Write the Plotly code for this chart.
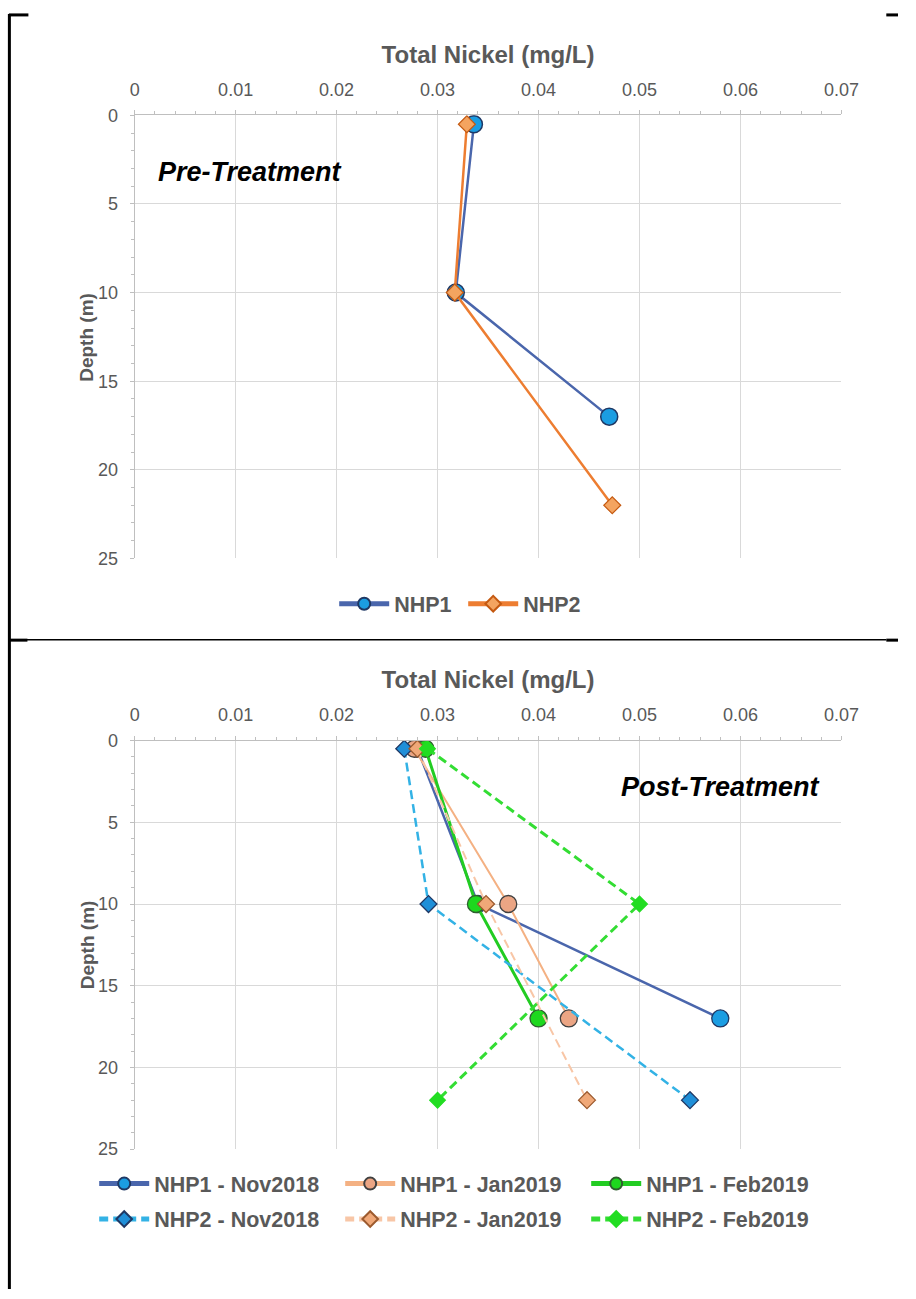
import plotly.graph_objects as go

# ---- data -----------------------------------------------------------------
# Pre-treatment profiles (depth in m, total nickel in mg/L)
pre_nhp1_depth = [0.5, 10, 17]
pre_nhp1_ni = [0.0336, 0.0318, 0.047]
pre_nhp2_depth = [0.5, 10, 22]
pre_nhp2_ni = [0.0329, 0.0317, 0.0473]

# Post-treatment profiles
post_nhp1_depth = [0.5, 10, 17]
post_nhp2_depth = [0.5, 10, 22]
nhp1_nov2018 = [0.028, 0.034, 0.058]
nhp1_jan2019 = [0.0277, 0.037, 0.043]
nhp1_feb2019 = [0.0288, 0.0338, 0.040]
nhp2_nov2018 = [0.0267, 0.0291, 0.055]
nhp2_jan2019 = [0.028, 0.0348, 0.0448]
nhp2_feb2019 = [0.029, 0.050, 0.030]

x_ticks = [0, 0.01, 0.02, 0.03, 0.04, 0.05, 0.06, 0.07]
x_tick_text = ["0", "0.01", "0.02", "0.03", "0.04", "0.05", "0.06", "0.07"]
y_ticks = [0, 5, 10, 15, 20, 25]

# ---- page geometry (pixels) -----------------------------------------------
W, H = 916, 1299
FONT = "Liberation Sans, Arial, sans-serif"
GREY = "#595959"


def px_x(x):
    """Pixel x -> paper fraction."""
    return min(max(x / W, 0), 1)


def px_y(y):
    """Pixel y (from top) -> paper fraction."""
    return min(max(1 - y / H, 0), 1)


fig = go.Figure()

# ---- pre-treatment traces --------------------------------------------------
fig.add_trace(go.Scatter(
    x=pre_nhp1_ni, y=pre_nhp1_depth, name="NHP1", mode="lines+markers",
    line=dict(color="#4A66AC", width=2.5),
    marker=dict(symbol="circle", size=17, color="#1B9DE2",
                line=dict(color="#1F3864", width=1.5)),
    xaxis="x", yaxis="y", legend="legend"))
fig.add_trace(go.Scatter(
    x=pre_nhp2_ni, y=pre_nhp2_depth, name="NHP2", mode="lines+markers",
    line=dict(color="#ED7D31", width=2.5),
    marker=dict(symbol="diamond", size=13, color="#F4A460",
                line=dict(color="#C55A11", width=1.2)),
    xaxis="x", yaxis="y", legend="legend"))

# ---- post-treatment traces -------------------------------------------------
DASH = "9px,5px"
post_series = [
    ("NHP1 - Nov2018", nhp1_nov2018, post_nhp1_depth, "#4A66AC", 2.5, "solid",
     "circle", 17, "#1B9DE2", "#1F3864", "legend2"),
    ("NHP1 - Jan2019", nhp1_jan2019, post_nhp1_depth, "#F4B183", 2, "solid",
     "circle", 17, "#EBA584", "#404040", "legend2"),
    ("NHP1 - Feb2019", nhp1_feb2019, post_nhp1_depth, "#22CC22", 3, "solid",
     "circle", 17, "#1ED81E", "#2F5F2F", "legend2"),
    ("NHP2 - Nov2018", nhp2_nov2018, post_nhp2_depth, "#33B2E5", 2.5, DASH,
     "diamond", 13, "#1F8FD8", "#1F3864", "legend3"),
    ("NHP2 - Jan2019", nhp2_jan2019, post_nhp2_depth, "#F8C6A6", 2, DASH,
     "diamond", 13, "#F0A878", "#9C5A2E", "legend3"),
    ("NHP2 - Feb2019", nhp2_feb2019, post_nhp2_depth, "#33DD33", 3, DASH,
     "diamond", 12, "#22DD22", "#22DD22", "legend3"),
]
for name, xs, ys, lc, lw, dash, sym, ms, mc, mlc, lg in post_series:
    fig.add_trace(go.Scatter(
        x=xs, y=ys, name=name, mode="lines+markers",
        line=dict(color=lc, width=lw, dash=dash),
        marker=dict(symbol=sym, size=ms, color=mc, line=dict(color=mlc, width=1.3)),
        xaxis="x2", yaxis="y2", legend=lg))


# ---- axes ------------------------------------------------------------------
def x_axis(anchor):
    return dict(
        domain=[px_x(133), px_x(858)], anchor=anchor, side="top",
        range=[0, 0.07], tickvals=x_ticks, ticktext=x_tick_text,
        showgrid=True, gridcolor="#D9D9D9", gridwidth=1,
        showline=True, linecolor="#BFBFBF", linewidth=1,
        ticks="outside", ticklen=4, tickcolor="#BFBFBF",
        minor=dict(dtick=0.002, ticks="outside", ticklen=3, tickcolor="#BFBFBF",
                   showgrid=False),
        tickfont=dict(family=FONT, size=18, color=GREY),
        ticklabelstandoff=7,
        title=dict(text="<b>Total Nickel (mg/L)</b>", standoff=9,
                   font=dict(family=FONT, size=24, color=GREY)),
        zeroline=False, fixedrange=True,
    )


def y_axis(anchor, top, bottom):
    return dict(
        domain=[px_y(bottom), px_y(top)], anchor=anchor,
        range=[25, 0], tickvals=y_ticks,
        showgrid=True, gridcolor="#D9D9D9", gridwidth=1,
        showline=True, linecolor="#BFBFBF", linewidth=1,
        ticks="outside", ticklen=4, tickcolor="#BFBFBF",
        minor=dict(dtick=1, ticks="outside", ticklen=3, tickcolor="#BFBFBF",
                   showgrid=False),
        tickfont=dict(family=FONT, size=18, color=GREY),
        ticklabelstandoff=8,
        zeroline=False, fixedrange=True,
    )


legend_common = dict(
    orientation="h", bgcolor="rgba(0,0,0,0)", itemsizing="constant",
    itemwidth=50,
    font=dict(family=FONT, size=21.5, color=GREY, weight="bold"),
    itemclick=False, itemdoubleclick=False,
)

depth_title_font = dict(family=FONT, size=19, color=GREY)

fig.update_layout(
    width=W, height=H, margin=dict(l=0, r=0, t=0, b=0),
    paper_bgcolor="white", plot_bgcolor="white",
    xaxis=x_axis("y"), yaxis=y_axis("x", 107, 557),
    xaxis2=x_axis("y2"), yaxis2=y_axis("x2", 742, 1157),
    legend=dict(x=px_x(470), xanchor="center", y=px_y(603), yanchor="middle",
                entrywidth=64, **legend_common),
    legend2=dict(x=px_x(470), xanchor="center", y=px_y(1192), yanchor="middle",
                 entrywidth=181, **legend_common),
    legend3=dict(x=px_x(470), xanchor="center", y=px_y(1228), yanchor="middle",
                 entrywidth=181, **legend_common),
    annotations=[
        dict(text="<b>Depth (m)</b>", textangle=-90, x=px_x(84), y=px_y(332),
             xref="paper", yref="paper", xanchor="center", yanchor="middle",
             showarrow=False, font=depth_title_font),
        dict(text="<b>Depth (m)</b>", textangle=-90, x=px_x(84), y=px_y(949),
             xref="paper", yref="paper", xanchor="center", yanchor="middle",
             showarrow=False, font=depth_title_font),
        dict(text="<b><i>Pre-Treatment</i></b>", x=px_x(155), y=px_y(165),
             xref="paper", yref="paper", xanchor="left", yanchor="middle",
             showarrow=False, font=dict(family=FONT, size=27, color="black")),
        dict(text="<b><i>Post-Treatment</i></b>", x=px_x(838), y=px_y(789),
             xref="paper", yref="paper", xanchor="right", yanchor="middle",
             showarrow=False, font=dict(family=FONT, size=27, color="black")),
    ],
)

# ---- table-cell border lines ----------------------------------------------
border_segments = [
    (4, 5, 24, 5, 3),
    (904, 5, 916, 5, 3),
    (4.5, 4, 4.5, 1299, 3),
    (4, 639.5, 904, 639.5, 1.5),
    (4, 640, 23, 640, 3),
    (904, 640, 916, 640, 3),
]
for x0, y0, x1, y1, w in border_segments:
    fig.add_shape(type="line", xref="paper", yref="paper",
                  x0=px_x(x0), y0=px_y(y0), x1=px_x(x1), y1=px_y(y1),
                  line=dict(color="black", width=w))

fig.write_html("out.html")
